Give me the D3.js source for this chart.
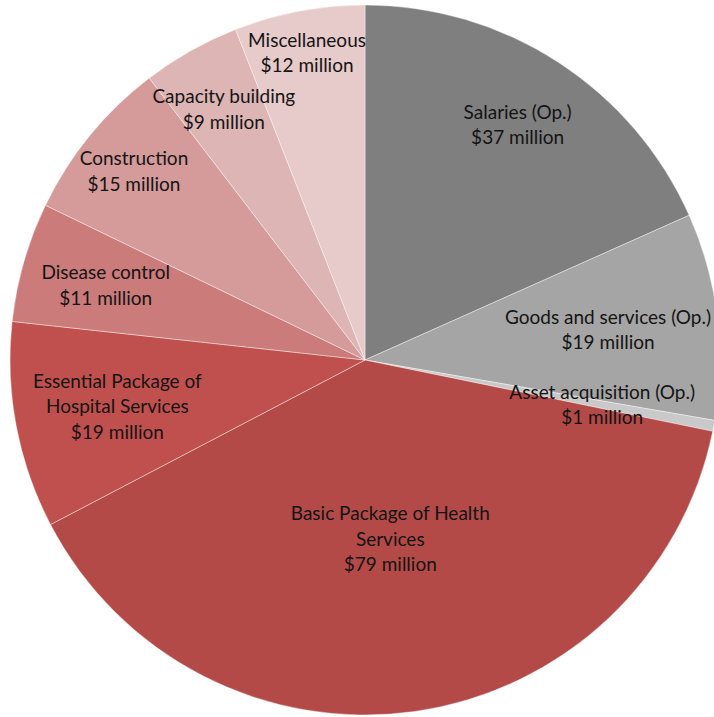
<!DOCTYPE html>
<html><head><meta charset="utf-8">
<script src="https://cdn.jsdelivr.net/npm/d3@7"></script>
<style>html,body{margin:0;padding:0;background:#fff;overflow:hidden}</style>
</head><body>
<svg id="chart" width="714" height="717"></svg>
<script>
const categories = ["Salaries (Op.)", "Goods and services (Op.)", "Asset acquisition (Op.)", "Basic Package of Health Services", "Essential Package of Hospital Services", "Disease control", "Construction", "Capacity building", "Miscellaneous"];
const values = [37, 19, 1, 79, 19, 11, 15, 9, 12];
const labelLines = [["Salaries (Op.)"], ["Goods and services (Op.)"], ["Asset acquisition (Op.)"], ["Basic Package of Health", "Services"], ["Essential Package of", "Hospital Services"], ["Disease control"], ["Construction"], ["Capacity building"], ["Miscellaneous"]];
const colors = ["#7f7f7f", "#a5a5a5", "#c9c9c9", "#b34a48", "#c0504d", "#cb7b79", "#d49b9a", "#ddb5b4", "#e7caca"];
const labelRadius = [0.79, 0.69, 0.68, 0.51, 0.71, 0.76, 0.84, 0.81, 0.88];

const svg = d3.select("#chart");
const cx = 365, cy = 360, R = 355;
const g = svg.append("g").attr("transform", `translate(${cx},${cy})`);
const data = values.map((v, i) => ({name: categories[i], value: v, i}));
const pie = d3.pie().value(d => d.value).sort(null);
const arcs = pie(data);
const arc = d3.arc().innerRadius(0).outerRadius(R);

g.selectAll("path").data(arcs).enter().append("path")
  .attr("d", arc).attr("fill", d => colors[d.data.i])
  .attr("stroke", "#ffffff").attr("stroke-opacity", 0.4).attr("stroke-width", 1);

const fs = 19, lh = 25.5;
arcs.forEach(d => {
  const i = d.data.i;
  const la = d3.arc().innerRadius(R * labelRadius[i]).outerRadius(R * labelRadius[i]);
  const [x, y] = la.centroid(d);
  const lines = labelLines[i].concat(["$" + values[i] + " million"]);
  const t = g.append("text").attr("text-anchor", "middle")
    .attr("font-family", "Lato, 'Open Sans', sans-serif").attr("font-size", fs)
    .attr("fill", "#141414");
  lines.forEach((s, k) => {
    t.append("tspan").attr("x", x).attr("y", y + (k - (lines.length - 1) / 2) * lh)
      .attr("dy", "0.35em").text(s);
  });
});
</script>
</body></html>
